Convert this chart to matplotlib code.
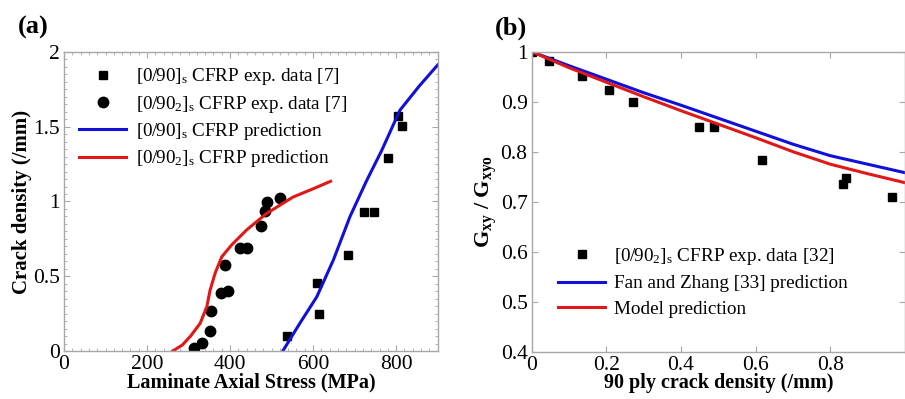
import matplotlib
matplotlib.use('Agg')
import matplotlib.pyplot as plt
from matplotlib.ticker import MultipleLocator

plt.rcParams['font.family'] = 'Liberation Serif'
plt.rcParams['mathtext.fontset'] = 'custom'
plt.rcParams['mathtext.rm'] = 'Liberation Serif'
plt.rcParams['mathtext.it'] = 'Liberation Serif:italic'
plt.rcParams['mathtext.bf'] = 'Liberation Serif:bold'

# panel (a) data
sq_stress = [538, 609, 615, 683, 722, 747, 780, 805, 814]
sq_crack = [0.10, 0.457, 0.245, 0.642, 0.93, 0.93, 1.293, 1.572, 1.507]
ci_stress = [313, 332, 352, 353, 377, 395, 388, 425, 442, 475, 483, 488, 521]
ci_crack = [0.022, 0.051, 0.134, 0.27, 0.386, 0.40, 0.575, 0.687, 0.691, 0.834, 0.934, 0.994, 1.023]
blue_stress = [527, 568, 609, 649, 689, 729, 765, 809, 855, 900]
blue_crack = [0, 0.185, 0.363, 0.61, 0.90, 1.14, 1.34, 1.61, 1.77, 1.913]
red_stress = [262, 285, 305, 328, 344, 352, 364, 380, 404, 440, 488, 552, 600, 642]
red_crack = [0, 0.04, 0.10, 0.185, 0.296, 0.408, 0.52, 0.63, 0.71, 0.81, 0.92, 1.03, 1.085, 1.135]
a_xticks = [0, 200, 400, 600, 800]
a_yticks = [0, 0.5, 1, 1.5, 2]
a_ylabels = ['0', '0.5', '1', '1.5', '2']

# panel (b) data
exp_rho = [0, 0.046, 0.134, 0.208, 0.272, 0.449, 0.489, 0.618, 0.835, 0.843, 0.964]
exp_g = [1.0, 0.982, 0.951, 0.924, 0.899, 0.85, 0.85, 0.783, 0.735, 0.748, 0.709]
pred_rho = [0, 0.1, 0.2, 0.3, 0.4, 0.5, 0.6, 0.7, 0.8, 0.9, 1.0]
fan_g = [1.0, 0.972, 0.945, 0.918, 0.893, 0.867, 0.841, 0.815, 0.792, 0.775, 0.758]
model_g = [1.0, 0.968, 0.939, 0.91, 0.882, 0.855, 0.828, 0.80, 0.775, 0.756, 0.738]
b_xticks = [0, 0.2, 0.4, 0.6, 0.8]
b_xlabels = ['0', '0.2', '0.4', '0.6', '0.8']
b_yticks = [0.4, 0.5, 0.6, 0.7, 0.8, 0.9, 1.0]
b_ylabels = ['0.4', '0.5', '0.6', '0.7', '0.8', '0.9', '1']

frame = '#a8a8a8'
blue = '#1010d8'
red = '#e01818'
fig = plt.figure(figsize=(9.05, 3.99), dpi=100)
ax1 = fig.add_axes([0.0707, 0.1203, 0.4129, 0.7494])
ax2 = fig.add_axes([0.5875, 0.1185, 0.4125, 0.7519])

ax1.plot(sq_stress, sq_crack, 's', color='black', ms=6, label=r'[0/90]$_\mathrm{s}$ CFRP exp. data [7]')
ax1.plot(ci_stress, ci_crack, 'o', color='black', ms=7.5, label=r'[0/90$_2$]$_\mathrm{s}$ CFRP exp. data [7]')
ax1.plot(blue_stress, blue_crack, color=blue, lw=2.2, label=r'[0/90]$_\mathrm{s}$ CFRP prediction')
ax1.plot(red_stress, red_crack, color=red, lw=2.2, label=r'[0/90$_2$]$_\mathrm{s}$ CFRP prediction')
ax1.set_xlim(0, 900)
ax1.set_ylim(0, 2)
ax1.set_xticks(a_xticks)
ax1.set_yticks(a_yticks)
ax1.set_yticklabels(a_ylabels)
ax1.xaxis.set_minor_locator(MultipleLocator(20))
ax1.yaxis.set_minor_locator(MultipleLocator(0.05))
ax1.set_xlabel('Laminate Axial Stress (MPa)', fontsize=14.5, fontweight='bold', labelpad=-1)
ax1.set_ylabel('Crack density (/mm)', fontsize=15, fontweight='bold', labelpad=1)
ax1.legend(loc='upper left', bbox_to_anchor=(0.01, 0.99), frameon=False, fontsize=13.8,
           handlelength=2.45, handletextpad=0.5, labelspacing=0.33, borderaxespad=0.2)

ax2.plot(exp_rho, exp_g, 's', color='black', ms=6, label=r'[0/90$_2$]$_\mathrm{s}$ CFRP exp. data [32]')
ax2.plot(pred_rho, fan_g, color=blue, lw=2.2, label='Fan and Zhang [33] prediction')
ax2.plot(pred_rho, model_g, color=red, lw=2.2, label='Model prediction')
ax2.set_xlim(0, 1)
ax2.set_ylim(0.4, 1)
ax2.set_xticks(b_xticks)
ax2.set_xticklabels(b_xlabels)
ax2.set_yticks(b_yticks)
ax2.set_yticklabels(b_ylabels)
ax2.set_xlabel('90 ply crack density (/mm)', fontsize=14.5, fontweight='bold', labelpad=-1)
ax2.set_ylabel(r'G$_\mathbf{xy}$ / G$_\mathbf{xyo}$', fontsize=16, fontweight='bold', labelpad=1)
ax2.legend(loc='lower left', bbox_to_anchor=(0.04, 0.075), frameon=False, fontsize=13.8,
           handlelength=2.45, handletextpad=0.45, labelspacing=0.42, borderaxespad=0.2)

fig.text(0.02, 0.93, '(a)', fontsize=19, fontweight='bold', va='center')
fig.text(0.547, 0.93, '(b)', fontsize=19, fontweight='bold', va='center')

for ax in (ax1, ax2):
    for s in ax.spines.values():
        s.set_color(frame)
        s.set_linewidth(1.0)
    ax.tick_params(which='both', direction='in', top=True, right=True, color=frame,
                   labelsize=15.5, pad=3)
    ax.tick_params(which='major', length=4)
    ax.tick_params(which='minor', length=2)

fig.savefig('out.png', dpi=100)
